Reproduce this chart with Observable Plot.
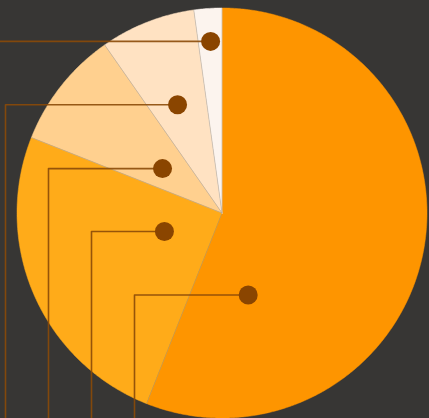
<!DOCTYPE html>
<html>
<head>
<meta charset="utf-8">
<script src="https://cdn.jsdelivr.net/npm/d3@7"></script>
<script src="https://cdn.jsdelivr.net/npm/@observablehq/plot@0.6"></script>
<style>
  html, body { margin: 0; padding: 0; background: #373634; }
  #chart { width: 429px; height: 418px; overflow: hidden; }
</style>
</head>
<body>
<div id="chart"></div>
<script>
// ---- data ----
const categories = ["Segment A", "Segment B", "Segment C", "Segment D", "Segment E"];
const shares = [56.0, 25.0, 9.3, 7.5, 2.2];

// ---- style / layout ----
const palette = ["#fe9500", "#ffab19", "#ffd08f", "#ffe2c2", "#fcf4ee"];
const W = 429, H = 418;
const cx = 221.5, cy = 212.5, R = 205;
// label anchor placement inside each slice (fraction of slice sweep, fraction of radius)
const anchorSweep = [0.805, 0.562, 0.452, 0.467, 0.52];
const anchorRadius = [0.42, 0.295, 0.362, 0.571, 0.839];
const colStart = 134, colStep = 43;

const arcs = d3.pie().sort(null).value(d => d)(shares);
const pt = (a, r) => ({x: cx + r * Math.sin(a), y: cy - r * Math.cos(a)});

const slicePts = [];
arcs.forEach((a, i) => {
  const key = categories[i];
  slicePts.push({key, color: palette[i], ...pt(0, 0)});
  const n = Math.max(2, Math.ceil((a.endAngle - a.startAngle) / (Math.PI / 360)));
  for (let k = 0; k <= n; k++) {
    const ang = a.startAngle + (a.endAngle - a.startAngle) * k / n;
    slicePts.push({key, color: palette[i], ...pt(ang, R)});
  }
  slicePts.push({key, color: palette[i], ...pt(0, 0)});
});

const separators = arcs.map((a, i) => {
  const p = pt(a.startAngle, R);
  return {key: categories[i], x1: cx, y1: cy, x2: p.x, y2: p.y};
});

const anchors = arcs.map((a, i) => {
  const ang = a.startAngle + (a.endAngle - a.startAngle) * anchorSweep[i];
  return {key: categories[i], value: shares[i], ...pt(ang, R * anchorRadius[i])};
});

const leaderPts = [];
anchors.forEach((d, i) => {
  const colX = colStart - colStep * i;
  leaderPts.push({key: d.key, x: d.x, y: d.y});
  leaderPts.push({key: d.key, x: colX, y: d.y});
  leaderPts.push({key: d.key, x: colX, y: H});
});

const chart = Plot.plot({
  width: W,
  height: H,
  margin: 0,
  x: {domain: [0, W], range: [0, W], axis: null},
  y: {domain: [0, H], range: [0, H], axis: null},
  style: {background: "#373634", overflow: "hidden"},
  marks: [
    Plot.line(slicePts, {x: "x", y: "y", z: "key", fill: "color", stroke: "color", strokeWidth: 0.5, curve: "linear"}),
    Plot.link(separators, {x1: "x1", y1: "y1", x2: "x2", y2: "y2", stroke: "#a39584", strokeOpacity: 0.55, strokeWidth: 0.8}),
    Plot.line(leaderPts, {x: "x", y: "y", z: "key", stroke: "#8b4a08", strokeOpacity: 0.9, strokeWidth: 1.6, curve: "linear"}),
    Plot.dot(anchors, {x: "x", y: "y", r: 9.5, fill: "#8a4500", stroke: "none"})
  ]
});
document.getElementById("chart").appendChild(chart);
</script>
</body>
</html>
